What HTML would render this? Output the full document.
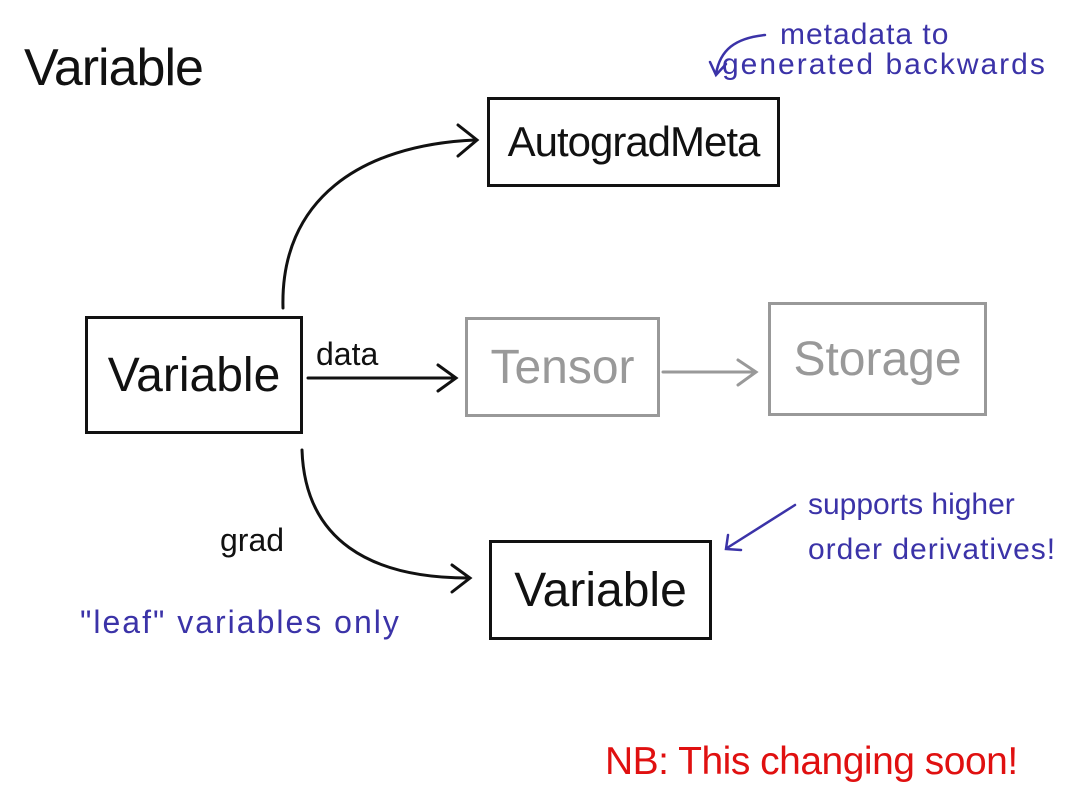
<!DOCTYPE html>
<html><head><meta charset="utf-8"><style>
html,body{margin:0;padding:0;background:#fff;}
body{width:1080px;height:810px;position:relative;overflow:hidden;font-family:"Liberation Sans",sans-serif;}
.t{position:absolute;white-space:nowrap;line-height:1;}
.box{position:absolute;box-sizing:border-box;border:3px solid #111;display:flex;align-items:center;justify-content:center;font-size:46px;color:#111;}
.g{border-color:#999;color:#999;border-width:3px;}
.blue{color:#3b33a8;font-size:30px;}
</style></head><body>
<div class="t" style="left:24px;top:42px;font-size:52px;color:#111;letter-spacing:-1px;font-weight:300;">Variable</div>

<div class="box" style="left:487px;top:97px;width:293px;height:90px;font-size:42px;letter-spacing:-1px;">AutogradMeta</div>
<div class="box" style="left:85px;top:316px;width:218px;height:118px;font-size:48px;">Variable</div>
<div class="box g" style="left:465px;top:317px;width:195px;height:100px;font-size:48px;">Tensor</div>
<div class="box g" style="left:768px;top:302px;width:219px;height:114px;font-size:48px;">Storage</div>
<div class="box" style="left:489px;top:540px;width:223px;height:100px;font-size:48px;">Variable</div>

<svg width="1080" height="810" style="position:absolute;left:0;top:0">
<g fill="none" stroke="#111" stroke-width="3" stroke-linecap="round">
<path d="M283 308 C280 200 360 145 475 140"/>
<path d="M458 125 L477 140 L458 156"/>
<path d="M308 378 L455 378"/>
<path d="M438 365 L456 378 L438 391"/>
<path d="M302 450 C305 540 370 578 468 578"/>
<path d="M452 565 L470 578 L452 592"/>
</g>
<g fill="none" stroke="#999" stroke-width="3" stroke-linecap="round">
<path d="M663 372 L755 372"/><path d="M738 360 L756 372 L738 385"/>
</g>
<g fill="none" stroke="#3b33a8" stroke-width="2.5" stroke-linecap="round">
<path d="M765 35 C735 38 720 50 716 74"/><path d="M710 62 L716 75 L726 64"/>
<path d="M795 505 L727 548"/><path d="M728 535 L726 549 L741 550"/>
</g>
</svg>

<div class="t" style="left:316px;top:338px;font-size:32px;color:#111;">data</div>
<div class="t" style="left:220px;top:524px;font-size:32px;color:#111;">grad</div>
<div class="t blue" style="left:80px;top:606px;font-size:32px;letter-spacing:2px;">"leaf" variables only</div>
<div class="t blue" style="left:780px;top:20px;font-size:30px;letter-spacing:1px;">metadata to</div>
<div class="t blue" style="left:722px;top:50px;font-size:30px;letter-spacing:2px;">generated backwards</div>
<div class="t blue" style="left:808px;top:490px;">supports higher</div>
<div class="t blue" style="left:808px;top:535px;letter-spacing:1px;">order derivatives!</div>
<div class="t" style="left:605px;top:742px;font-size:39px;color:#e01010;letter-spacing:-0.5px;">NB: This changing soon!</div>
</body></html>
